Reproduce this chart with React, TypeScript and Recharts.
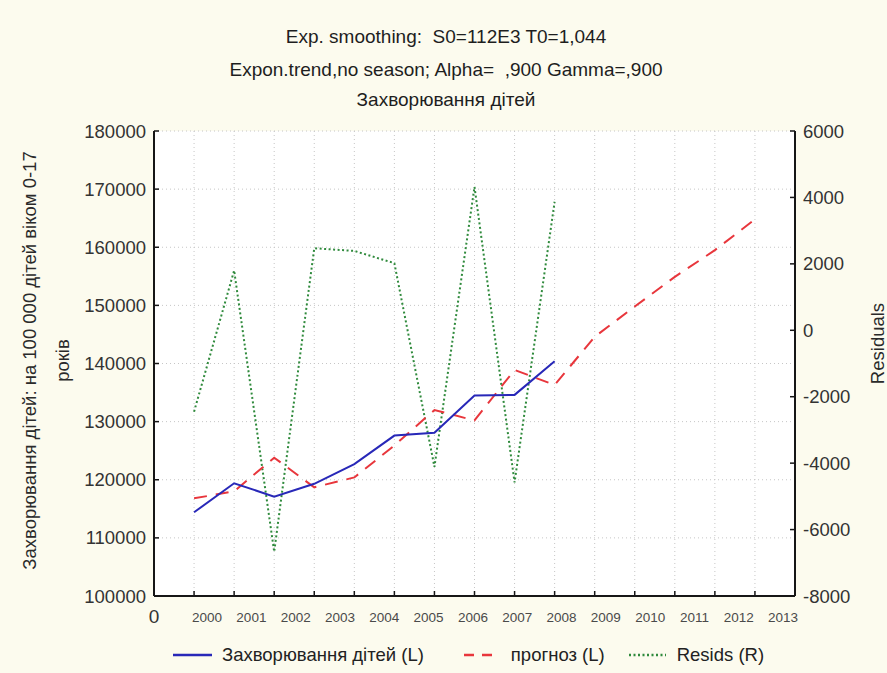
import React from "react"
import { LineChart, Line, XAxis, YAxis, CartesianGrid, Legend } from "recharts"

// case numbers on the x axis (the axis itself runs 0..16)
const caseNo = [1, 2, 3, 4, 5, 6, 7, 8, 9, 10, 11, 12, 13, 14, 15]
// Захворювання дітей (L)
const observed = [114400, 119400, 117100, 119300, 122700, 127600, 128100, 134500, 134600, 140400]
// прогноз (L)
const forecast = [
  116800, 118000, 123800, 118700, 120400, 125900, 132000, 130200, 138900, 136300, 144600, 149800, 154900, 159500,
  164800,
]
// Resids (R)
const resids = [-2450, 1800, -6670, 2470, 2390, 2020, -4110, 4320, -4580, 3870]

const yearLabels = [2000, 2001, 2002, 2003, 2004, 2005, 2006, 2007, 2008, 2009, 2010, 2011, 2012, 2013]
const leftTicks = [100000, 110000, 120000, 130000, 140000, 150000, 160000, 170000, 180000]
const rightTicks = [-8000, -6000, -4000, -2000, 0, 2000, 4000, 6000]
const indexTicks = [0, ...caseNo]

const titleLines = [
  "Exp. smoothing:  S0=112E3 T0=1,044",
  "Expon.trend,no season; Alpha=  ,900 Gamma=,900",
  "Захворювання дітей",
]
const leftTitle = ["Захворювання дітей: на 100 000 дітей віком 0-17", "років"]
const rightTitle = "Residuals"
const legendOrder = ["Захворювання дітей (L)", "прогноз (L)", "Resids (R)"]

// the year labels in the original sit on their own spacing, a bit wider than the case ticks
const yearStart = 1.325
const yearStep = 1.106
const yearTickPos = yearLabels.map((_, i) => yearStart + i * yearStep)

const data = caseNo.map((c, i) => ({
  c,
  observed: observed[i],
  forecast: forecast[i],
  resid: resids[i],
}))

const FONT = "'Liberation Sans', Arial, sans-serif"
const BORDER = "#161616"

// legend swatch layout, per legend slot
const swatchW = [39, 28, 37]
const swatchGap = [10, 19, 11]
const itemGap = [40, 24, 0]

const YearTick = (props: any) => (
  <text x={props.x} y={props.y + 6} textAnchor="middle" fontSize={13.5} fill="#4a4a4a" fontFamily={FONT}>
    {yearLabels[props.index]}
  </text>
)

const LeftTitle = (props: any) => {
  const { x, y, height } = props.viewBox
  const cy = y + height / 2 - 3
  return (
    <g fontFamily={FONT} fontSize={18.5} fill="#2a2a2a">
      <text x={x + 29} y={cy} transform={`rotate(-90, ${x + 29}, ${cy})`} textAnchor="middle" dominantBaseline="central">
        {leftTitle[0]}
      </text>
      <text x={x + 62} y={cy} transform={`rotate(-90, ${x + 62}, ${cy})`} textAnchor="middle" dominantBaseline="central">
        {leftTitle[1]}
      </text>
    </g>
  )
}

const RightTitle = (props: any) => {
  const { x, y, height } = props.viewBox
  const cx = x + 82
  const cy = y + height / 2 - 20
  return (
    <text
      x={cx}
      y={cy}
      transform={`rotate(-90, ${cx}, ${cy})`}
      textAnchor="middle"
      dominantBaseline="central"
      fontFamily={FONT}
      fontSize={18.5}
      fill="#2a2a2a"
    >
      {rightTitle}
    </text>
  )
}

const renderLegend = (props: any) => {
  const items = [...(props.payload || [])].sort(
    (a: any, b: any) => legendOrder.indexOf(a.value) - legendOrder.indexOf(b.value)
  )
  return (
    <div
      style={{
        display: "flex",
        alignItems: "center",
        height: 44,
        paddingLeft: 173,
        fontFamily: FONT,
        fontSize: 18.5,
        color: "#222",
      }}
    >
      {items.map((entry: any, i: number) => (
        <div key={entry.value} style={{ display: "flex", alignItems: "center", marginRight: itemGap[i] }}>
          <svg width={swatchW[i]} height={10} style={{ marginRight: swatchGap[i] }}>
            <line
              x1={0}
              y1={5}
              x2={swatchW[i]}
              y2={5}
              stroke={entry.color}
              strokeWidth={2.5}
              strokeDasharray={i === 1 ? "10 8" : entry.payload?.strokeDasharray}
            />
          </svg>
          <span>{entry.value}</span>
        </div>
      ))}
    </div>
  )
}

export default function App() {
  return (
    <div style={{ position: "absolute", left: 0, top: 0, width: 887, height: 673, background: "#fcfbee" }}>
      {titleLines.map((t, i) => (
        <div
          key={t}
          style={{
            position: "absolute",
            left: 0,
            width: 892,
            top: [26, 59, 89][i],
            lineHeight: "22px",
            textAlign: "center",
            fontFamily: FONT,
            fontSize: 19,
            color: "#1e1e1e",
            whiteSpace: "pre",
          }}
        >
          {t}
        </div>
      ))}
      <div style={{ position: "absolute", left: 0, top: 0 }}>
        <LineChart width={887} height={673} data={data} margin={{ top: 131, right: 0, bottom: 0, left: 0 }}>
          <CartesianGrid xAxisId="idx" yAxisId="L" stroke="#c6c6c6" strokeDasharray="1 3" fill="#ffffff" />
          <XAxis
            xAxisId="idx"
            dataKey="c"
            type="number"
            domain={[0, 16]}
            ticks={indexTicks}
            interval={0}
            allowDataOverflow
            height={20}
            tickSize={-5}
            tickMargin={19}
            tickFormatter={(v: number) => (v === 0 ? "0" : "")}
            tick={{ fontSize: 19, fill: "#333", fontFamily: FONT }}
            axisLine={{ stroke: BORDER, strokeWidth: 2 }}
            tickLine={{ stroke: BORDER, strokeWidth: 1.5 }}
          />
          <XAxis
            xAxisId="yr"
            dataKey="c"
            type="number"
            domain={[0, 16]}
            ticks={yearTickPos}
            interval={0}
            allowDataOverflow
            height={17}
            tickSize={0}
            tickMargin={0}
            axisLine={false}
            tickLine={false}
            tick={<YearTick />}
          />
          <XAxis
            xAxisId="top"
            dataKey="c"
            orientation="top"
            type="number"
            domain={[0, 16]}
            ticks={caseNo}
            interval={0}
            allowDataOverflow
            height={0}
            tickSize={-5}
            tick={false}
            axisLine={{ stroke: BORDER, strokeWidth: 2 }}
            tickLine={{ stroke: BORDER, strokeWidth: 1.5 }}
          />
          <YAxis
            yAxisId="L"
            domain={[100000, 180000]}
            ticks={leftTicks}
            interval={0}
            allowDataOverflow
            width={154}
            tickSize={-5}
            tickMargin={13}
            tick={{ fontSize: 18.5, fill: "#333", fontFamily: FONT }}
            axisLine={{ stroke: BORDER, strokeWidth: 2 }}
            tickLine={{ stroke: BORDER, strokeWidth: 1.5 }}
            label={{ content: <LeftTitle /> }}
          />
          <YAxis
            yAxisId="R"
            orientation="right"
            domain={[-8000, 6000]}
            ticks={rightTicks}
            interval={0}
            allowDataOverflow
            width={92}
            tickSize={-5}
            tickMargin={13}
            tick={{ fontSize: 18.5, fill: "#333", fontFamily: FONT, textAnchor: "start" }}
            axisLine={{ stroke: BORDER, strokeWidth: 2 }}
            tickLine={{ stroke: BORDER, strokeWidth: 1.5 }}
            label={{ content: <RightTitle /> }}
          />
          <Legend verticalAlign="bottom" height={40} content={renderLegend} />
          <Line
            xAxisId="idx"
            yAxisId="R"
            dataKey="resid"
            name="Resids (R)"
            stroke="#2f8a3c"
            strokeWidth={2}
            strokeDasharray="2 2.5"
            dot={false}
            isAnimationActive={false}
          />
          <Line
            xAxisId="idx"
            yAxisId="L"
            dataKey="forecast"
            name="прогноз (L)"
            stroke="#e8363c"
            strokeWidth={2}
            strokeDasharray="13 9"
            dot={false}
            isAnimationActive={false}
          />
          <Line
            xAxisId="idx"
            yAxisId="L"
            dataKey="observed"
            name="Захворювання дітей (L)"
            stroke="#2828b8"
            strokeWidth={2}
            dot={false}
            isAnimationActive={false}
          />
        </LineChart>
      </div>
    </div>
  )
}
